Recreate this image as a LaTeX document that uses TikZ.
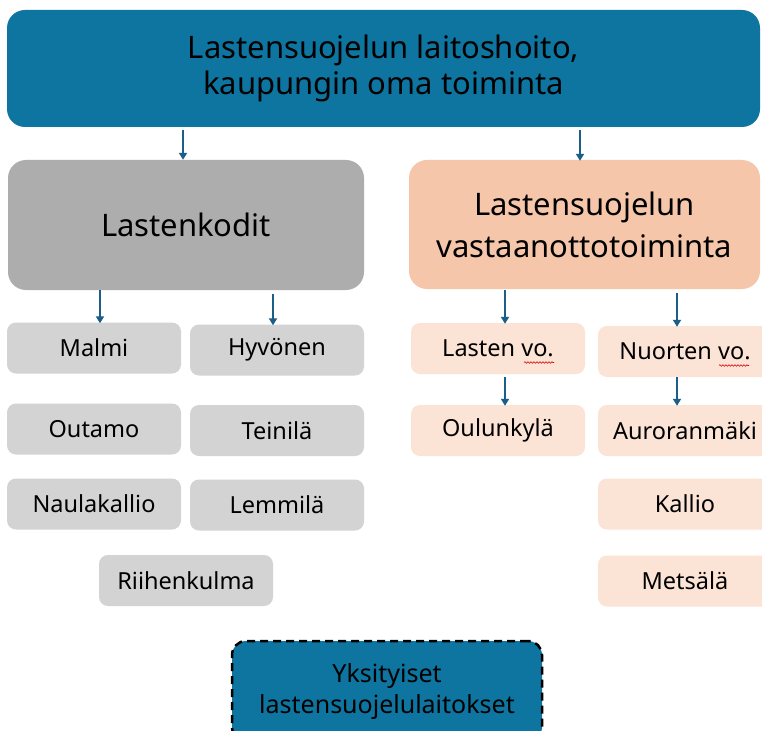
\documentclass[tikz,border=0pt]{standalone}
\usepackage{fontspec}
\setmainfont{Noto Sans}
\usetikzlibrary{arrows.meta,decorations.pathmorphing,calc}
\definecolor{topblue}{HTML}{0E74A0}
\definecolor{arrowblue}{HTML}{1B5E88}
\definecolor{darkgray}{HTML}{ADADAD}
\definecolor{lightgray}{HTML}{D3D3D3}
\definecolor{orange}{HTML}{F5C6A9}
\definecolor{lightorange}{HTML}{FBE3D6}
\tikzset{
  box/.style={rectangle, rounded corners=9pt, minimum width=174pt, minimum height=51pt, inner sep=0pt, font=\fontsize{23.5}{28}\selectfont, text=black},
  graybox/.style={box, fill=lightgray},
  orbox/.style={box, fill=lightorange},
  bigbox/.style={rectangle, rounded corners=18pt, inner sep=0pt, align=center, font=\fontsize{31}{42}\selectfont, text=black},
  arr/.style={draw=arrowblue, line width=2pt, -{Triangle[width=8pt,length=7pt]}},
  squig/.style={draw=red!85!black, line width=0.6pt, decorate, decoration={snake, amplitude=0.8pt, segment length=3pt}}
}
\begin{document}
\begin{tikzpicture}[x=1pt,y=-1pt]
\clip (0,0) rectangle (762,730);
\fill[white] (0,0) rectangle (762,730);
% top
\node[bigbox, fill=topblue, minimum width=753pt, minimum height=117pt, font=\fontsize{31}{36}\selectfont] (top) at (383.5,68.5) {Lastensuojelun laitoshoito,\\kaupungin oma toiminta};
% second level
\node[bigbox, fill=darkgray, minimum width=356pt, minimum height=130pt] (lk) at (186,225) {Lastenkodit};
\node[bigbox, fill=orange, minimum width=351pt, minimum height=129pt] (vt) at (584.5,224.5) {Lastensuojelun\\vastaanottotoiminta};
% gray boxes
\node[graybox] (malmi) at (94,348) {Malmi};
\node[graybox] (hyv) at (277,350) {Hyvönen};
\node[graybox] (outamo) at (94,429) {Outamo};
\node[graybox] (teinila) at (277,430.5) {Teinilä};
\node[graybox] (naula) at (94,504) {Naulakallio};
\node[graybox] (lemmila) at (277,505) {Lemmilä};
\node[graybox] (riihen) at (186,580.5) {Riihenkulma};
% orange boxes
\node[orbox] (lv) at (498,348.5) {Lasten vo.};
\node[orbox] (nv) at (685,351.5) {Nuorten vo.};
\node[orbox] (oul) at (498,430.5) {Oulunkylä};
\node[orbox] (aur) at (685,430.5) {Auroranmäki};
\node[orbox] (kallio) at (685,504) {Kallio};
\node[orbox] (metsala) at (685,581) {Metsälä};
% bottom
\node[rectangle, rounded corners=14pt, fill=topblue, draw=black, line width=2.5pt, dash pattern=on 8pt off 5pt, minimum width=310pt, minimum height=100pt, inner sep=0pt, align=center, font=\fontsize{25}{31}\selectfont, text=black] (priv) at (387,691) {Yksityiset\\lastensuojelulaitokset};
% arrows
\draw[arr] ([xshift=-3pt,yshift=-3pt]top.south -| lk.north) -- ([xshift=-3pt]lk.north);
\draw[arr] ([xshift=-4.5pt,yshift=-3pt]top.south -| vt.north) -- ([xshift=-4.5pt,yshift=-1pt]vt.north);
\draw[arr] ([xshift=6pt]lk.south -| malmi.north) -- ([xshift=6pt,yshift=-1pt]malmi.north);
\draw[arr] ([xshift=-4pt,yshift=-4pt]lk.south -| hyv.north) -- ([xshift=-4pt,yshift=-1pt]hyv.north);
\draw[arr] ([xshift=7pt,yshift=-1pt]vt.south -| lv.north) -- ([xshift=7pt,yshift=-1pt]lv.north);
\draw[arr] ([xshift=-8pt,yshift=-4pt]vt.south -| nv.north) -- ([xshift=-8pt,yshift=-1pt]nv.north);
\draw[arr] ([xshift=7pt,yshift=-3pt]lv.south) -- ([xshift=7pt,yshift=-1pt]oul.north);
\draw[arr] ([xshift=-8pt]nv.south) -- ([xshift=-8pt,yshift=-1pt]aur.north);
% spell-check squiggles
\draw[squig] ([xshift=26pt,yshift=-14pt]lv.center) -- ++(30,0);
\draw[squig] ([xshift=34pt,yshift=-14pt]nv.center) -- ++(30,0);
\end{tikzpicture}
\end{document}
